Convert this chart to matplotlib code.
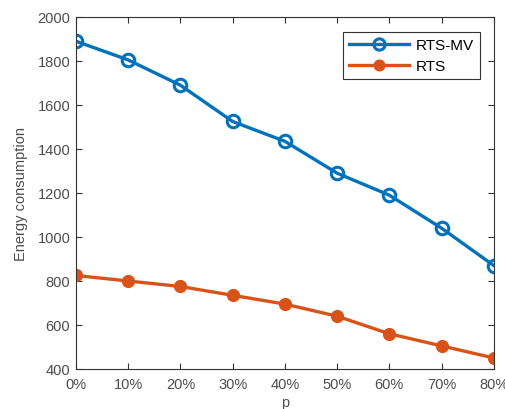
import matplotlib
matplotlib.use("Agg")
import matplotlib.pyplot as plt
from matplotlib.ticker import FixedLocator

plt.rcParams['font.family'] = ['Liberation Sans', 'DejaVu Sans']

p_labels = ['0%', '10%', '20%', '30%', '40%', '50%', '60%', '70%', '80%']
p_values = [0, 10, 20, 30, 40, 50, 60, 70, 80]
rts_mv = [1890, 1805, 1690, 1525, 1435, 1290, 1190, 1040, 870]
rts = [825, 800, 775, 735, 695, 640, 560, 505, 450]

blue = (0, 0.447, 0.741)
orange = (0.85, 0.325, 0.098)
axis_grey = (0.2, 0.2, 0.2)
text_grey = (0.3, 0.3, 0.3)

fig = plt.figure(figsize=(5.06, 4.10), dpi=100)
ax = fig.add_axes([0.150, 0.0976, 0.826, 0.8585])

ax.plot(p_values, rts_mv, '-o', color=blue, lw=2.4, ms=9,
        mfc='none', mew=2.2, label='RTS-MV')
ax.plot(p_values, rts, '-o', color=orange, lw=2.4, ms=8.5,
        mfc=orange, mew=1, label='RTS')

ax.set_xlim(0, 80)
ax.set_ylim(400, 2000)
ax.xaxis.set_major_locator(FixedLocator(p_values))
ax.set_xticklabels(p_labels)
ax.set_yticks(range(400, 2001, 200))

ax.tick_params(direction='in', length=4, width=0.8, color=axis_grey,
               labelcolor=text_grey, labelsize=10.5, top=True, right=True)
ax.tick_params(axis='x', pad=6)
ax.tick_params(axis='y', pad=4)
for s in ax.spines.values():
    s.set_color(axis_grey)
    s.set_linewidth(0.8)

ax.set_xlabel('p', fontsize=10.5, color=text_grey, labelpad=3)
ax.set_ylabel('Energy consumption', fontsize=10.5, color=text_grey, labelpad=7)

leg = ax.legend(loc='upper right', bbox_to_anchor=(0.967, 0.957),
                fontsize=11, fancybox=False, framealpha=1,
                edgecolor=axis_grey, handlelength=3.9, borderpad=0.4,
                labelspacing=0.45, handletextpad=0.45, borderaxespad=0,
                markerscale=0.9)
leg.get_frame().set_linewidth(0.8)

fig.savefig('out.png', dpi=100)
